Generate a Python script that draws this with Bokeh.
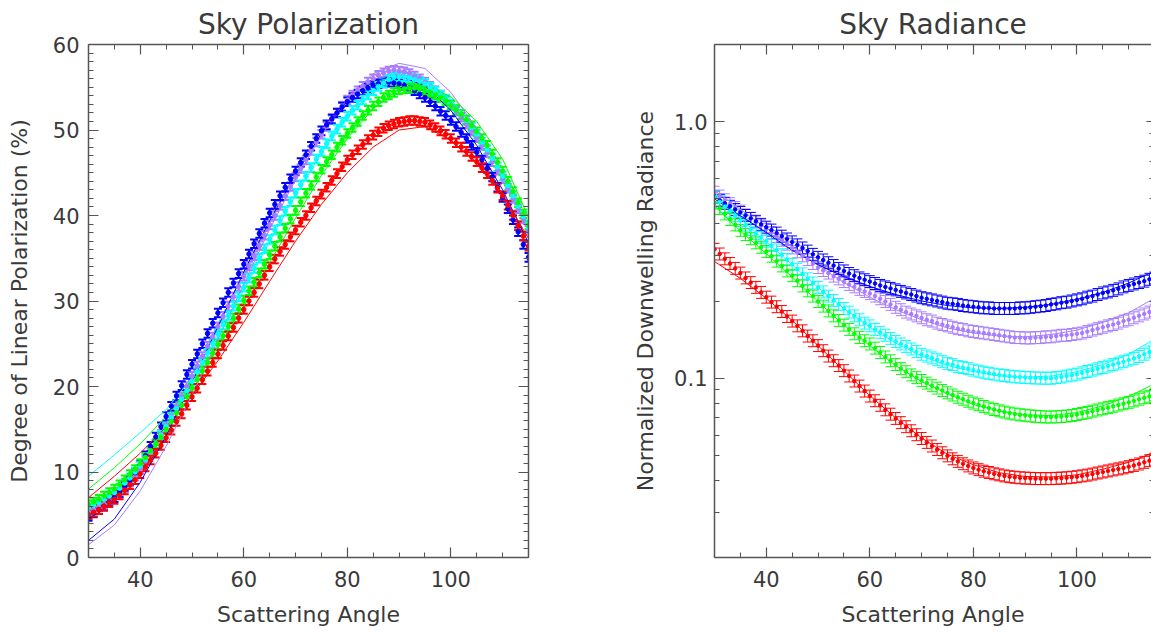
from bokeh.plotting import figure
from bokeh.layouts import row
from bokeh.models import (ColumnDataSource, Whisker, TeeHead, LinearAxis, LogAxis, CustomJSTickFormatter,
                          SingleIntervalTicker, FixedTicker, PrintfTickFormatter, Range1d)
from bokeh.embed import file_html
from bokeh.resources import INLINE

# ---------------- data ----------------
angle = list(range(30, 116))          # scattering angle of measurements (deg)
model_angle = list(range(30, 116, 5))  # scattering angle of model curves (deg)

# Degree of linear polarization (%) - measurements
dolp_red = [5.0, 5.3, 5.6, 6.0, 6.4, 6.8, 7.3, 7.9, 8.5, 9.1, 9.8, 10.6, 11.4, 12.2, 13.1, 14.0, 14.9, 15.9, 16.8, 17.8,
            18.8, 19.8, 20.8, 21.8, 22.8, 23.8, 24.8, 25.9, 26.9, 28.0, 29.0, 30.0, 31.0, 32.0, 33.0, 34.0, 34.9, 35.8, 36.6, 37.5,
            38.3, 39.2, 40.0, 40.9, 41.7, 42.5, 43.3, 44.1, 44.9, 45.7, 46.5, 47.1, 47.7, 48.3, 48.9, 49.4, 49.8, 50.2, 50.5, 50.7,
            50.9, 51.0, 51.1, 51.1, 51.0, 50.9, 50.6, 50.3, 49.9, 49.5, 49.0, 48.5, 48.0, 47.5, 46.9, 46.3, 45.6, 44.9, 44.1, 43.2,
            42.3, 41.2, 40.0, 38.8, 37.6, 36.4]
dolp_green = [6.2, 6.5, 6.8, 7.2, 7.6, 8.0, 8.5, 9.1, 9.7, 10.3, 11.0, 11.7, 12.5, 13.3, 14.1, 15.0, 15.9, 16.9, 17.8, 18.8,
              19.8, 20.8, 21.8, 22.8, 23.9, 24.9, 25.9, 27.0, 28.0, 29.1, 30.1, 31.2, 32.2, 33.3, 34.3, 35.4, 36.4, 37.5, 38.5, 39.6,
              40.6, 41.6, 42.6, 43.5, 44.5, 45.4, 46.3, 47.1, 48.0, 48.8, 49.6, 50.3, 51.0, 51.7, 52.3, 52.8, 53.3, 53.8, 54.1, 54.4,
              54.7, 54.8, 54.9, 54.9, 54.8, 54.6, 54.4, 54.1, 53.8, 53.4, 52.9, 52.4, 51.8, 51.2, 50.5, 49.8, 49.0, 48.2, 47.2, 46.2,
              45.2, 44.0, 42.8, 41.5, 40.2, 38.9]
dolp_cyan = [5.8, 6.1, 6.4, 6.8, 7.2, 7.6, 8.1, 8.7, 9.3, 10.0, 10.7, 11.5, 12.4, 13.3, 14.3, 15.3, 16.4, 17.4, 18.5, 19.5,
             20.6, 21.7, 22.8, 23.9, 25.0, 26.1, 27.2, 28.3, 29.4, 30.5, 31.6, 32.7, 33.8, 35.0, 36.1, 37.2, 38.3, 39.4, 40.5, 41.6,
             42.6, 43.6, 44.6, 45.6, 46.6, 47.5, 48.4, 49.3, 50.1, 50.9, 51.6, 52.3, 52.9, 53.5, 54.1, 54.6, 55.1, 55.5, 55.9, 56.2,
             56.2, 56.2, 56.1, 55.9, 55.7, 55.4, 55.0, 54.6, 54.1, 53.6, 53.0, 52.4, 51.8, 51.1, 50.3, 49.5, 48.6, 47.7, 46.7, 45.7,
             44.6, 43.5, 42.3, 41.1, 39.9, 38.6]
dolp_blue = [4.8, 5.2, 5.6, 6.0, 6.5, 7.0, 7.6, 8.3, 9.0, 9.9, 10.8, 11.9, 13.0, 14.1, 15.3, 16.5, 17.7, 18.9, 20.1, 21.4,
             22.6, 23.8, 25.0, 26.2, 27.4, 28.6, 29.8, 31.0, 32.1, 33.2, 34.3, 35.5, 36.7, 37.9, 39.1, 40.3, 41.3, 42.3, 43.3, 44.3,
             45.2, 46.2, 47.1, 48.1, 49.0, 49.9, 50.6, 51.3, 52.0, 52.7, 53.3, 53.8, 54.2, 54.6, 54.9, 55.2, 55.4, 55.5, 55.6, 55.5,
             55.4, 55.2, 54.9, 54.6, 54.2, 53.8, 53.3, 52.8, 52.2, 51.7, 51.1, 50.4, 49.7, 49.0, 48.2, 47.4, 46.5, 45.5, 44.5, 43.3,
             42.1, 40.8, 39.5, 38.1, 36.6, 35.1]
dolp_purple = [5.3, 5.6, 5.9, 6.2, 6.6, 7.0, 7.5, 8.1, 8.8, 9.5, 10.3, 11.3, 12.3, 13.3, 14.4, 15.5, 16.6, 17.7, 18.8, 20.0,
               21.2, 22.4, 23.5, 24.7, 25.8, 27.0, 28.2, 29.4, 30.5, 31.7, 32.9, 34.1, 35.3, 36.5, 37.7, 38.9, 40.0, 41.2, 42.3, 43.4,
               44.5, 45.5, 46.5, 47.6, 48.6, 49.5, 50.4, 51.2, 52.0, 52.8, 53.5, 54.1, 54.6, 55.1, 55.6, 56.0, 56.4, 56.7, 56.9, 57.0,
               56.9, 56.8, 56.6, 56.3, 56.0, 55.6, 55.1, 54.6, 54.1, 53.5, 52.9, 52.2, 51.5, 50.7, 49.9, 49.1, 48.2, 47.3, 46.3, 45.3,
               44.3, 43.2, 42.0, 40.8, 39.6, 38.3]
dolp_err = 0.5

# Degree of linear polarization (%) - model curves (at model_angle)
dolp_model_red = [7.0, 9.5, 12.2, 15.3, 19.0, 23.0, 27.5, 32.3, 37.0, 41.3, 45.0, 48.0, 50.0, 50.4, 48.8, 46.2, 42.5, 37.3]
dolp_model_green = [8.0, 10.5, 13.3, 16.5, 20.3, 24.6, 29.4, 34.5, 39.7, 44.7, 49.0, 52.5, 54.8, 55.2, 53.9, 51.0, 46.6, 39.8]
dolp_model_cyan = [9.5, 12.0, 14.6, 17.3, 21.0, 25.8, 31.3, 37.0, 42.4, 47.3, 51.5, 54.6, 56.3, 56.0, 53.6, 49.9, 45.0, 38.8]
dolp_model_blue = [2.0, 4.5, 8.8, 14.2, 20.5, 27.0, 33.4, 39.4, 44.8, 49.6, 53.4, 55.8, 56.3, 55.2, 52.3, 48.2, 43.0, 36.8]
dolp_model_purple = [1.5, 3.8, 7.8, 13.0, 19.0, 25.5, 32.0, 38.4, 44.2, 49.4, 53.6, 56.6, 57.8, 57.2, 54.4, 50.2, 44.8, 38.2]

# Normalized downwelling radiance - measurements
rad_red = [.318, .305, .292, .280, .268, .257, .246, .236, .226, .216, .207, .198, .190, .182, .174, .167, .160, .153, .146, .140,
           .134, .128, .122, .117, .112, .107, .102, .0975, .0932, .0891, .0852, .0817, .0784, .0753, .0724, .0697, .0671, .0647, .0624, .0602,
           .0582, .0562, .0544, .0527, .0512, .0498, .0485, .0474, .0464, .0455, .0447, .0440, .0434, .0429, .0424, .0420, .0416, .0413, .0411, .0409,
           .0408, .0407, .0406, .0406, .0406, .0406, .0407, .0408, .0409, .0411, .0413, .0416, .0419, .0423, .0427, .0431, .0435, .0439, .0443, .0447,
           .0452, .0457, .0463, .0470, .0477, .0483]
rad_green = [.482, .459, .437, .416, .396, .377, .363, .350, .337, .324, .312, .299, .286, .274, .262, .251, .240, .229, .219, .209,
             .199, .191, .183, .175, .168, .161, .155, .149, .144, .140, .136, .131, .126, .121, .117, .113, .109, .106, .103, .1005,
             .098, .0957, .0935, .0915, .0895, .0877, .0860, .0843, .0828, .0813, .0800, .0788, .0776, .0765, .0755, .0746, .0738, .0731, .0725, .0720,
             .0717, .0713, .0710, .0708, .0706, .0706, .0707, .0709, .0712, .0716, .0722, .0729, .0736, .0744, .0752, .0760, .0768, .0777, .0786, .0795,
             .0805, .0816, .0828, .0839, .0850, .0862]
rad_cyan = [.508, .487, .467, .448, .430, .412, .395, .380, .366, .354, .342, .329, .316, .303, .290, .278, .266, .255, .244, .235,
            .226, .217, .209, .201, .194, .187, .181, .175, .169, .164, .160, .155, .151, .147, .143, .139, .136, .133, .130, .127,
            .124, .122, .120, .118, .116, .114, .113, .111, .110, .109, .1075, .1065, .1055, .1045, .1037, .1030, .1024, .1018, .1013, .1010,
            .1007, .1004, .1002, .1001, .1000, .1000, .1005, .1010, .1020, .1028, .1037, .1050, .1062, .1075, .1088, .1100, .1115, .1130, .1145, .1160,
            .1177, .1195, .1215, .1240, .1265, .1290]
rad_blue = [.508, .494, .481, .468, .455, .443, .431, .420, .409, .398, .388, .378, .368, .358, .349, .340, .331, .322, .313, .304,
            .296, .289, .282, .275, .268, .262, .256, .251, .246, .242, .238, .234, .230, .227, .224, .221, .218, .215, .212, .209,
            .206, .204, .202, .200, .198, .196, .195, .194, .192, .191, .190, .189, .188, .188, .187, .187, .187, .187, .187, .188,
            .188, .189, .190, .191, .192, .194, .195, .197, .198, .200, .202, .204, .207, .209, .212, .215, .217, .220, .223, .227,
            .230, .233, .236, .239, .243, .246]
rad_purple = [.531, .513, .496, .479, .463, .448, .433, .419, .406, .393, .381, .369, .357, .345, .333, .322, .311, .300, .290, .280,
              .270, .263, .257, .250, .244, .238, .232, .227, .222, .218, .214, .209, .204, .199, .194, .189, .185, .181, .178, .175,
              .172, .169, .167, .164, .162, .160, .158, .156, .155, .153, .152, .151, .150, .149, .148, .147, .146, .145, .144, .144,
              .1435, .1435, .144, .144, .145, .145, .146, .147, .147, .148, .149, .150, .152, .154, .156, .158, .160, .162, .164, .167,
              .169, .172, .175, .178, .181, .184]
rad_rel_err = 0.055

# Normalized downwelling radiance - model curves (at model_angle)
rad_model_red = [.285, .245, .205, .168, .134, .107, .0855, .070, .0585, .0505, .046, .0428, .0414, .0412, .042, .0442, .047, .0515]
rad_model_green = [.47, .375, .306, .248, .199, .161, .134, .112, .097, .087, .079, .0745, .072, .0715, .0735, .078, .085, .095]
rad_model_cyan = [.53, .42, .34, .277, .226, .187, .158, .137, .122, .112, .106, .102, .101, .102, .106, .113, .124, .142]
rad_model_blue = [.50, .43, .37, .315, .277, .249, .228, .212, .200, .192, .188, .187, .189, .194, .203, .216, .235, .262]
rad_model_purple = [.54, .455, .385, .325, .275, .236, .207, .185, .169, .157, .150, .146, .145, .148, .154, .165, .180, .205]

# ---------------- styling ----------------
FONT = "DejaVu Sans"
TXT = "#3a3a3a"
AX = "#555555"
COLORS = {"red": "#FF0000", "green": "#00FF00", "cyan": "#00FFFF", "blue": "#0000FF", "purple": "#A87CFF"}
ORDER = ["purple", "blue", "cyan", "green", "red"]
BLANK = CustomJSTickFormatter(code="return '';")


def style_axis(ax, show_labels=True):
    ax.axis_line_color = AX
    ax.axis_line_width = 1.5
    ax.major_tick_line_color = AX
    ax.major_tick_line_width = 1.2
    ax.major_tick_in = 10
    ax.major_tick_out = 0
    ax.minor_tick_line_color = AX
    ax.minor_tick_in = 5
    ax.minor_tick_out = 0
    ax.major_label_text_font = FONT
    ax.major_label_text_color = TXT
    ax.major_label_text_font_size = "21px"
    ax.axis_label_text_font = FONT
    ax.axis_label_text_color = TXT
    ax.axis_label_text_font_style = "normal"
    ax.axis_label_text_font_size = "22px"
    if not show_labels:
        ax.formatter = BLANK
        ax.major_label_standoff = 0


def style_fig(p, title):
    p.title.text = title
    p.title.align = "center"
    p.title.text_font = FONT
    p.title.text_font_size = "28px"
    p.title.text_font_style = "normal"
    p.title.text_color = TXT
    p.title.standoff = 8
    p.outline_line_color = None
    p.grid.visible = False
    p.background_fill_color = "white"
    p.border_fill_color = "white"


# ---------------- left: polarization ----------------
p1 = figure(width=538, height=632, x_range=Range1d(30, 115), y_range=Range1d(0, 60),
            min_border_left=88, min_border_right=10, min_border_top=44, min_border_bottom=75,
            toolbar_location=None, output_backend="svg")
style_fig(p1, "Sky Polarization")
p1.xaxis.ticker = SingleIntervalTicker(interval=20, num_minor_ticks=4)
p1.yaxis.ticker = SingleIntervalTicker(interval=10, num_minor_ticks=10)
p1.xaxis.axis_label = "Scattering Angle"
p1.yaxis.axis_label = "Degree of Linear Polarization (%)"
style_axis(p1.xaxis[0])
style_axis(p1.yaxis[0])
p1.xaxis.major_label_standoff = 13
p1.xaxis.axis_label_standoff = 12
p1.yaxis.major_label_standoff = 9
p1.yaxis.axis_label_standoff = 18
top1 = LinearAxis(ticker=SingleIntervalTicker(interval=20, num_minor_ticks=4))
style_axis(top1, show_labels=False)
p1.add_layout(top1, "above")
right1 = LinearAxis(ticker=SingleIntervalTicker(interval=10, num_minor_ticks=10))
style_axis(right1, show_labels=False)
p1.add_layout(right1, "right")

dolp = {"red": dolp_red, "green": dolp_green, "cyan": dolp_cyan, "blue": dolp_blue, "purple": dolp_purple}
dolp_model = {"red": dolp_model_red, "green": dolp_model_green, "cyan": dolp_model_cyan,
              "blue": dolp_model_blue, "purple": dolp_model_purple}
for name in ORDER:
    c = COLORS[name]
    p1.line(model_angle, dolp_model[name], line_color=c, line_width=1)
for name in ORDER:
    c = COLORS[name]
    vals = dolp[name]
    src = ColumnDataSource(dict(x=angle, y=vals,
                                lo=[v - dolp_err for v in vals], hi=[v + dolp_err for v in vals]))
    p1.scatter("x", "y", source=src, size=4.5, color=c)
    p1.add_layout(Whisker(source=src, base="x", lower="lo", upper="hi", line_color=c, line_width=2,
                          upper_head=TeeHead(size=8, line_color=c, line_width=2),
                          lower_head=TeeHead(size=8, line_color=c, line_width=2)))

# ---------------- right: radiance ----------------
p2 = figure(width=613, height=632, x_range=Range1d(30, 114.4), y_range=Range1d(0.02, 2.0),
            y_axis_type="log",
            min_border_left=176, min_border_right=0, min_border_top=44, min_border_bottom=75,
            toolbar_location=None, output_backend="svg")
style_fig(p2, "Sky Radiance")
p2.xaxis.ticker = SingleIntervalTicker(interval=20, num_minor_ticks=4)
minor_log = [m * d for d in (0.01, 0.1, 1.0) for m in range(2, 10)]
p2.yaxis.ticker = FixedTicker(ticks=[0.1, 1.0], minor_ticks=minor_log)
p2.yaxis.formatter = PrintfTickFormatter(format="%.1f")
p2.xaxis.axis_label = "Scattering Angle"
p2.yaxis.axis_label = "Normalized Downwelling Radiance"
style_axis(p2.xaxis[0])
style_axis(p2.yaxis[0])
p2.xaxis.major_label_standoff = 13
p2.xaxis.axis_label_standoff = 12
p2.yaxis.major_label_standoff = 7
p2.yaxis.axis_label_standoff = 13
top2 = LinearAxis(ticker=SingleIntervalTicker(interval=20, num_minor_ticks=4))
style_axis(top2, show_labels=False)
p2.add_layout(top2, "above")
# right-hand frame lies just outside the window: only the tips of its ticks show
right2 = LogAxis(ticker=FixedTicker(ticks=[0.1, 1.0], minor_ticks=minor_log))
style_axis(right2, show_labels=False)
right2.axis_line_color = None
right2.major_tick_in = 5
right2.minor_tick_in = 2
p2.add_layout(right2, "right")

rad = {"red": rad_red, "green": rad_green, "cyan": rad_cyan, "blue": rad_blue, "purple": rad_purple}
rad_model = {"red": rad_model_red, "green": rad_model_green, "cyan": rad_model_cyan,
             "blue": rad_model_blue, "purple": rad_model_purple}
for name in ORDER:
    c = COLORS[name]
    p2.line(model_angle, rad_model[name], line_color=c, line_width=1)
for name in ORDER:
    c = COLORS[name]
    vals = rad[name]
    src = ColumnDataSource(dict(x=angle, y=vals,
                                lo=[v / (1 + rad_rel_err) for v in vals],
                                hi=[v * (1 + rad_rel_err) for v in vals]))
    p2.scatter("x", "y", source=src, size=3.5, color=c)
    p2.add_layout(Whisker(source=src, base="x", lower="lo", upper="hi", line_color=c, line_width=1,
                          upper_head=TeeHead(size=10, line_color=c, line_width=1),
                          lower_head=TeeHead(size=10, line_color=c, line_width=1)))

layout = row(p1, p2)
open("out.html", "w").write(file_html(layout, INLINE))
